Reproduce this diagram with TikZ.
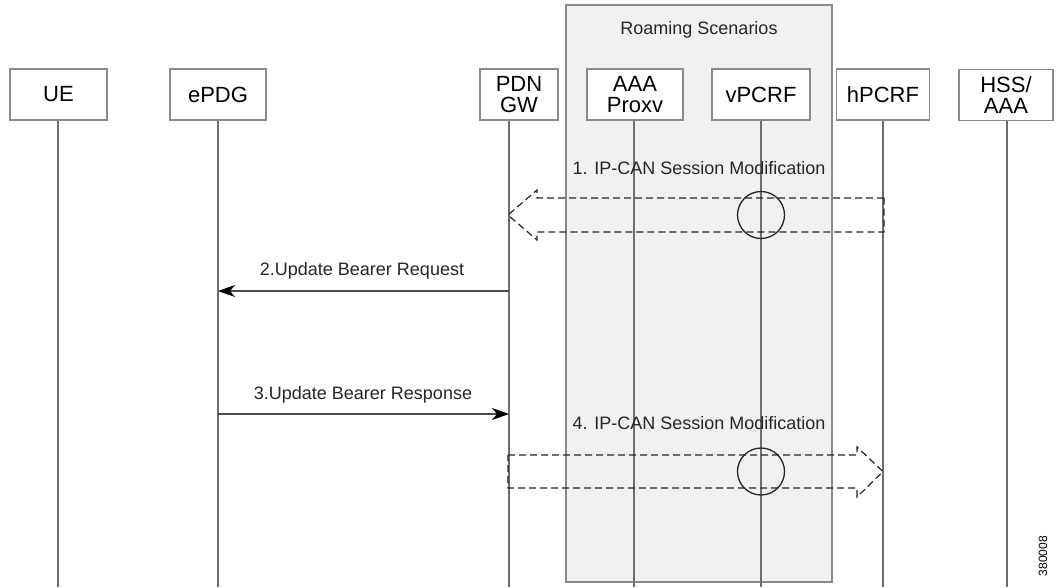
\documentclass[tikz,border=0pt]{standalone}
\usepackage{fontspec}
\setmainfont{Liberation Sans}
\usetikzlibrary{arrows.meta}
\definecolor{boxline}{HTML}{8A8A8A}
\definecolor{lifeline}{HTML}{6E6E6E}
\definecolor{roamfill}{HTML}{F1F1F3}
\begin{document}
\begin{tikzpicture}[x=1pt,y=-1pt,
  entity/.style={draw=boxline,line width=1.3pt,fill=white,minimum height=51pt,inner sep=0pt,align=center,font=\fontsize{22}{21}\selectfont},
  life/.style={draw=lifeline,line width=1.3pt},
  msg/.style={draw=black!70,line width=1.1pt,-{Stealth[length=17pt,width=12pt,inset=5pt,fill=black,color=black]}},
  lbl/.style={font=\fontsize{18}{20}\selectfont,inner sep=0pt,text=black!85},
  wide/.style={draw=black!85,line width=1.2pt,dash pattern=on 7pt off 4pt},
  ring/.style={draw=black!85,line width=1.3pt}]
\useasboundingbox (0,0) rectangle (1063,587);
\fill[white] (0,0) rectangle (1063,587);
\draw[draw=boxline,line width=1.3pt,fill=roamfill] (566,5) rectangle (832,582);
\node[lbl] (roam) at (699,30) {Roaming Scenarios};
% entities
\node[entity,minimum width=97pt] (ue) at (58.5,94.5) {UE};
\node[entity,minimum width=96pt] (epdg) at (218,94.5) {ePDG};
\node[entity,minimum width=78pt] (pdn) at (519,94.5) {PDN\\GW};
\node[entity,minimum width=96pt] (aaa) at (635,94.5) {AAA\\Proxv};
\node[entity,minimum width=98pt] (vpcrf) at (761,94.5) {vPCRF};
\node[entity,minimum width=93pt] (hpcrf) at (883,94.5) {hPCRF};
\node[entity,minimum width=94pt] (hss) at (1006,95) {HSS/\\AAA};
% lifelines
\coordinate (ueE) at (58,587);
\coordinate (epdgE) at (218,587);
\coordinate (pdnE) at (509,587);
\coordinate (aaaE) at (634,587);
\coordinate (vpcrfE) at (761,587);
\coordinate (hpcrfE) at (883,587);
\coordinate (hssE) at (1007,587);
\draw[life] (ue.south -| ueE) -- (ueE);
\draw[life] (epdg.south -| epdgE) -- (epdgE);
\draw[life] (pdn.south -| pdnE) -- (pdnE);
\draw[life] (aaa.south -| aaaE) -- (aaaE);
\draw[life] (vpcrf.south -| vpcrfE) -- (vpcrfE);
\draw[life] (hpcrf.south -| hpcrfE) -- (hpcrfE);
\draw[life] (hss.south -| hssE) -- (hssE);
% message 1
\node[lbl] (m1) at (699,168) {1. IP-CAN Session Modification};
\draw[wide] (884,198) -- (537,198) -- (537,190) -- (508,215) -- (537,240) -- (537,232) -- (884,232) -- cycle;
\node[ring,circle,minimum size=47pt,inner sep=0pt] (c1) at (761,215) {};
% message 2
\coordinate (p2) at (509,291);
\coordinate (e2) at (218,291);
\node[lbl] (m2) at (362,271) {2.Update Bearer Request};
\draw[msg] (p2) -- (e2);
% message 3
\coordinate (p3) at (509,414);
\coordinate (e3) at (218,414);
\node[lbl] (m3) at (363,395) {3.Update Bearer Response};
\draw[msg] (e3) -- (p3);
% message 4
\node[lbl] (m4) at (699,423) {4. IP-CAN Session Modification};
\draw[wide] (508,455) -- (857,455) -- (857,447) -- (883,471.5) -- (857,497) -- (857,488) -- (508,488) -- cycle;
\node[ring,circle,minimum size=47pt,inner sep=0pt] (c4) at (761,471.5) {};
% figure id
\node[rotate=90,font=\fontsize{12}{12}\selectfont,inner sep=0pt] (fid) at (1043,556) {380008};
\end{tikzpicture}
\end{document}
